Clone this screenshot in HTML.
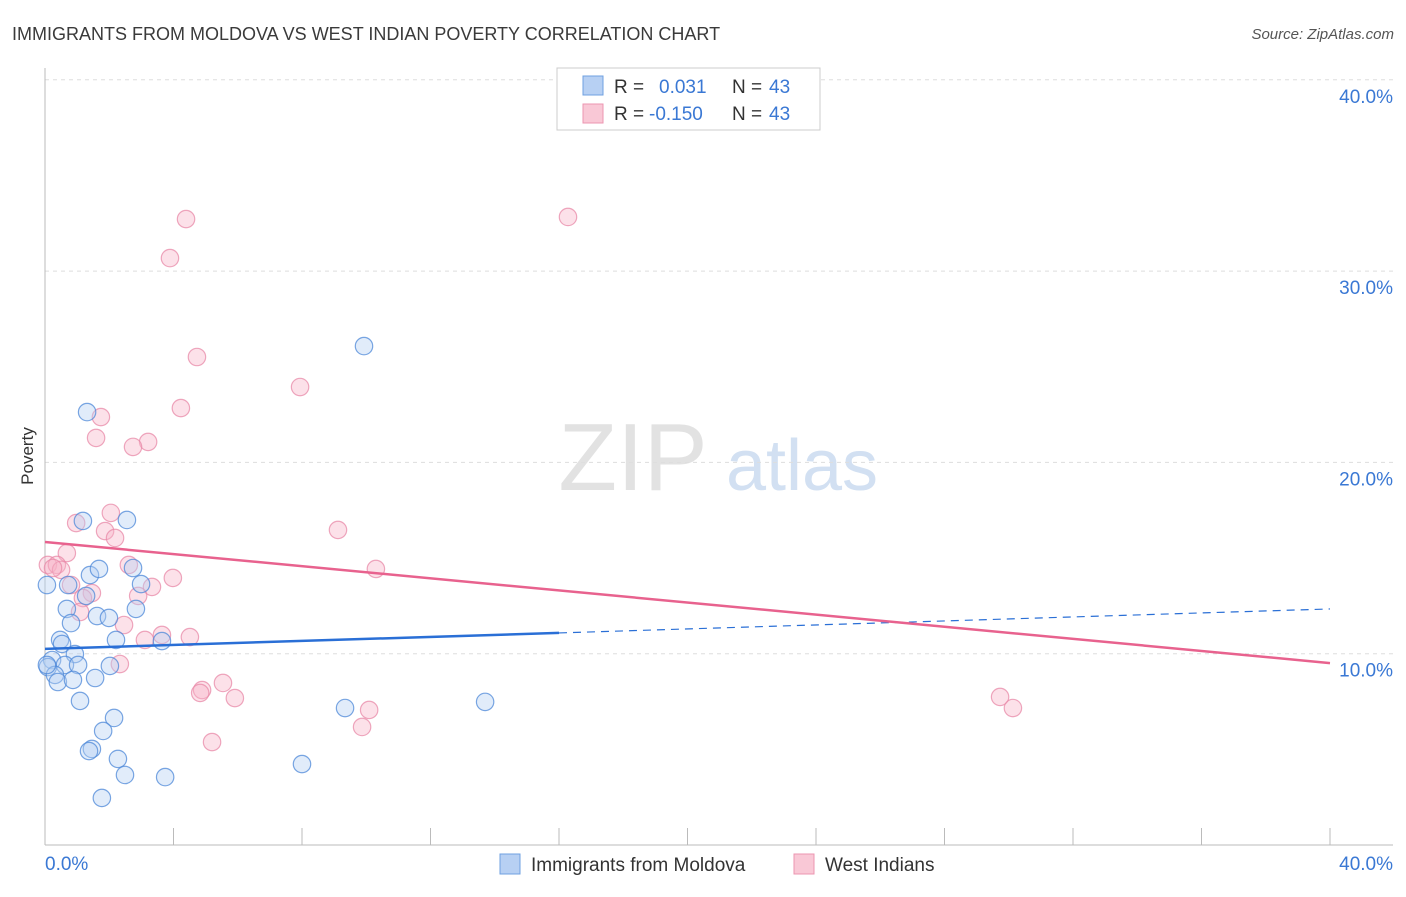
<!DOCTYPE html>
<html><head><meta charset="utf-8"><style>
body{margin:0;background:#fff;font-family:"Liberation Sans",sans-serif}
svg text{font-family:"Liberation Sans",sans-serif}
</style></head><body>
<svg id="chart" width="1406" height="892" xmlns="http://www.w3.org/2000/svg">
<text x="12" y="40" font-size="18" fill="#3a3a3a">IMMIGRANTS FROM MOLDOVA VS WEST INDIAN POVERTY CORRELATION CHART</text>
<text x="1394" y="39" font-size="15" fill="#555" font-style="italic" text-anchor="end">Source: ZipAtlas.com</text>
<text transform="translate(33,456) rotate(-90)" font-size="17" fill="#333" text-anchor="middle">Poverty</text>
<g>
<text x="633" y="490" font-size="96" fill="#e2e2e2" font-family="Liberation Serif" text-anchor="middle">ZIP</text>
<text x="802" y="490" font-size="72" fill="#d2e0f2" text-anchor="middle">atlas</text>
</g>
<g id="grid"></g><g id="axes"></g><g id="pts"></g><g id="lines"></g>
<g>
<rect x="557" y="68" width="263" height="62" fill="#fff" stroke="#ccc"/>
<rect x="583" y="76" width="20" height="19" fill="#b7d0f3" stroke="#6fa0e0"/>
<rect x="583" y="104" width="20" height="19" fill="#f9c8d6" stroke="#ec96b0"/>
<text x="614" y="93" font-size="19" fill="#333">R = </text><text x="659" y="93" font-size="19" fill="#3a78d4">0.031</text>
<text x="732" y="93" font-size="19" fill="#333">N = </text><text x="769" y="93" font-size="19" fill="#3a78d4">43</text>
<text x="614" y="120" font-size="19" fill="#333">R = </text><text x="649" y="120" font-size="19" fill="#3a78d4">-0.150</text>
<text x="732" y="120" font-size="19" fill="#333">N = </text><text x="769" y="120" font-size="19" fill="#3a78d4">43</text>
</g>
<g>
<rect x="500" y="854" width="20" height="20" fill="#b7d0f3" stroke="#6fa0e0"/>
<text x="531" y="871" font-size="19" fill="#333">Immigrants from Moldova</text>
<rect x="794" y="854" width="20" height="20" fill="#f9c8d6" stroke="#ec96b0"/>
<text x="825" y="871" font-size="19" fill="#333">West Indians</text>
</g>
</svg>
<script>
const yTicks=[10,20,30,40];
const yTickLabels=["10.0%","20.0%","30.0%","40.0%"];
const xEndLabels=["0.0%","40.0%"];
const blueX=[1.18,2.55,1.31,9.93,1.40,1.68,2.74,2.99,0.72,1.28,0.68,1.62,1.99,2.83,0.81,0.47,0.53,2.21,3.64,0.93,0.22,0.09,0.62,1.03,2.02,0.31,0.40,1.56,0.87,1.09,2.15,1.81,1.46,1.37,2.27,2.49,3.74,1.77,8.00,9.34,13.70,0.06,0.06];
const blueY=[16.94,16.99,22.63,26.08,14.11,14.43,14.48,13.64,13.59,13.02,12.34,11.97,11.87,12.34,11.60,10.72,10.51,10.72,10.66,9.98,9.67,9.30,9.41,9.41,9.36,8.89,8.52,8.73,8.63,7.53,6.64,5.96,5.02,4.91,4.50,3.66,3.55,2.46,4.23,7.16,7.48,13.59,9.41];
const pinkX=[4.39,16.28,3.89,4.73,7.94,4.23,1.74,1.59,3.21,2.74,2.05,0.97,1.87,2.18,9.12,0.68,0.09,0.37,0.50,0.25,2.61,10.30,3.98,0.81,1.46,1.18,3.33,2.90,2.46,3.64,4.51,3.11,2.33,5.54,4.89,4.83,5.91,29.73,30.13,10.09,9.87,5.20,1.09];
const pinkY=[32.72,32.83,30.68,25.51,23.94,22.84,22.37,21.28,21.07,20.81,17.36,16.83,16.41,16.05,16.47,15.26,14.64,14.64,14.38,14.48,14.64,14.43,13.96,13.59,13.17,12.91,13.49,13.02,11.50,10.98,10.87,10.72,9.46,8.47,8.10,7.95,7.68,7.74,7.16,7.06,6.17,5.38,12.18];
const blueTrend=[10.25,12.34];
const pinkTrend=[15.84,9.51];
const blueSolidEnd=16;
const NS="http://www.w3.org/2000/svg";
const sx=v=>45+v/40*1285, sy=v=>845-v*19.13;
function mk(tag,attrs,parent){const e=document.createElementNS(NS,tag);for(const k in attrs)e.setAttribute(k,attrs[k]);parent.appendChild(e);return e;}
const grid=document.getElementById('grid'),axes=document.getElementById('axes'),pts=document.getElementById('pts'),lines=document.getElementById('lines');
yTicks.forEach((t,i)=>{
 const l=mk('line',{x1:45,x2:1393,y1:sy(t),y2:sy(t),stroke:'#ddd','stroke-dasharray':'4,4'},grid);
 
 
 const tx=mk('text',{x:1393,y:sy(t)+23,'font-size':19,fill:'#3a78d4','text-anchor':'end'},axes);tx.textContent=yTickLabels[i];
 
 
});
const ax=mk('line',{x1:45,x2:1393,y1:845,y2:845,stroke:'#bbb'},axes);


const ay=mk('line',{x1:45,x2:45,y1:68,y2:845,stroke:'#bbb'},axes);


for(let i=0;i<=10;i++){const t=mk('line',{x1:sx(i*4),x2:sx(i*4),y1:828,y2:845,stroke:'#bbb'},axes);
 
 }
[[0,'start',45],[40,'end',1393]].forEach((d,i)=>{const t=mk('text',{x:d[2],y:870,'font-size':19,fill:'#3a78d4','text-anchor':d[1]},axes);t.textContent=xEndLabels[i];
 
 });
function dots(X,Y,fill,stroke,name){X.forEach((x,i)=>{const c=mk('circle',{cx:sx(x),cy:sy(Y[i]),r:8.7,fill:fill,'fill-opacity':0.4,stroke:stroke,'stroke-opacity':0.75,'stroke-width':1.2},pts);
 
 });}
dots(pinkX,pinkY,'#f7b3c7','#e88aa8','west-indians-point');
dots(blueX,blueY,'#b3cff2','#4d88d8','moldova-point');
const by=x=>blueTrend[0]+(blueTrend[1]-blueTrend[0])*x/40;
const b1=mk('line',{x1:sx(0),y1:sy(by(0)),x2:sx(blueSolidEnd),y2:sy(by(blueSolidEnd)),stroke:'#2a6fd6','stroke-width':2.5},lines);


const b2=mk('line',{x1:sx(blueSolidEnd),y1:sy(by(blueSolidEnd)),x2:sx(40),y2:sy(by(40)),stroke:'#2a6fd6','stroke-width':1.2,'stroke-dasharray':'8,6'},lines);


const p1=mk('line',{x1:sx(0),y1:sy(pinkTrend[0]),x2:sx(40),y2:sy(pinkTrend[1]),stroke:'#e8628e','stroke-width':2.5},lines);


</script>
</body></html>
